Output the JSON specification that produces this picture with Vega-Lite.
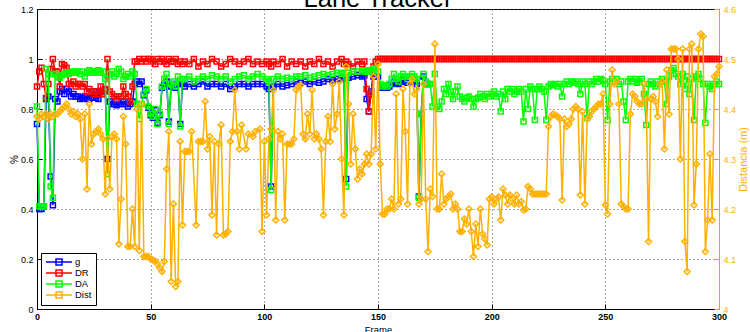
{
"$schema": "https://vega.github.io/schema/vega-lite/v6.json",
"width": 682, "height": 300,
"autosize": {"type": "none"},
"padding": {"left": 37, "top": 9, "right": 31, "bottom": 23},
"background": "white",
"title": {"text": "Lane Tracker", "fontSize": 25.5, "fontWeight": "normal", "font": "Liberation Sans", "anchor": "middle", "frame": "group", "baseline": "alphabetic", "offset": -27.5, "color": "black"},
"config": {
  "view": {"stroke": "black", "strokeWidth": 1},
  "axis": {"labelFont": "Liberation Sans", "titleFont": "Liberation Sans", "labelFontSize": 9, "titleFontSize": 10, "titleFontWeight": "normal", "labelColor": "black", "titleColor": "black", "tickSize": -5, "domainColor": "black", "tickColor": "black", "gridDash": [1, 3], "gridColor": "#444", "gridOpacity": 0.9, "labelPadding": 9}
},
"datasets": {
"pct": [
{"f":0,"g":0.74,"DR":0.89,"DA":0.81},{"f":1,"g":0.40,"DR":0.95,"DA":0.41},{"f":2,"g":0.40,"DR":0.965,"DA":0.41},{"f":3,"g":0.41,"DR":0.9,"DA":0.41},{"f":4,"g":0.84,"DR":0.844,"DA":0.96},{"f":5,"g":0.85,"DR":0.9,"DA":0.94},{"f":6,"g":0.53,"DR":0.96,"DA":0.49},{"f":7,"g":0.415,"DR":1.0,"DA":0.445},{"f":8,"g":0.84,"DR":0.95,"DA":0.94},
{"f":9,"g":0.83,"DR":0.95,"DA":0.93},{"f":10,"g":0.87,"DR":0.89,"DA":0.925},{"f":11,"g":0.88,"DR":0.98,"DA":0.935},{"f":12,"g":0.86,"DR":0.975,"DA":0.94},{"f":13,"g":0.88,"DR":0.965,"DA":0.945},{"f":14,"g":0.87,"DR":0.9,"DA":0.94},{"f":15,"g":0.85,"DR":0.9,"DA":0.945},{"f":16,"g":0.86,"DR":0.91,"DA":0.95},{"f":17,"g":0.85,"DR":0.89,"DA":0.945},{"f":18,"g":0.85,"DR":0.9,"DA":0.95},{"f":19,"g":0.84,"DR":0.9,"DA":0.94},{"f":20,"g":0.845,"DR":0.89,"DA":0.95},
{"f":21,"g":0.85,"DR":0.9,"DA":0.93},{"f":22,"g":0.84,"DR":0.87,"DA":0.945},{"f":23,"g":0.84,"DR":0.88,"DA":0.955},{"f":24,"g":0.845,"DR":0.87,"DA":0.95},{"f":25,"g":0.87,"DR":0.86,"DA":0.945},{"f":26,"g":0.845,"DR":0.87,"DA":0.95},{"f":27,"g":0.84,"DR":0.86,"DA":0.955},{"f":28,"g":0.87,"DR":0.89,"DA":0.945},{"f":29,"g":0.86,"DR":0.86,"DA":0.95},{"f":30,"g":0.875,"DR":0.88,"DA":0.92},
{"f":31,"g":0.6,"DR":1.0,"DA":0.54},{"f":32,"g":0.83,"DR":0.87,"DA":0.94},{"f":33,"g":0.82,"DR":0.86,"DA":0.95},{"f":34,"g":0.82,"DR":0.85,"DA":0.93},{"f":35,"g":0.815,"DR":0.84,"DA":0.94},{"f":36,"g":0.82,"DR":0.85,"DA":0.96},{"f":37,"g":0.82,"DR":0.85,"DA":0.95},{"f":38,"g":0.83,"DR":0.89,"DA":0.92},{"f":39,"g":0.82,"DR":0.86,"DA":0.93},{"f":40,"g":0.81,"DR":0.85,"DA":0.94},
{"f":41,"g":0.82,"DR":0.83,"DA":0.93},{"f":42,"g":0.83,"DR":0.89,"DA":0.95},{"f":43,"g":0.9,"DR":0.99,"DA":0.94},{"f":44,"g":0.91,"DR":0.99,"DA":0.82},{"f":45,"g":0.9,"DR":1.0,"DA":0.76},{"f":46,"g":0.91,"DR":0.99,"DA":0.82},{"f":47,"g":0.855,"DR":1.0,"DA":0.86},{"f":48,"g":0.875,"DR":0.99,"DA":0.88},{"f":49,"g":0.805,"DR":1.0,"DA":0.81},{"f":50,"g":0.775,"DR":1.0,"DA":0.78},
{"f":51,"g":0.765,"DR":0.99,"DA":0.77},{"f":52,"g":0.795,"DR":0.98,"DA":0.80},{"f":53,"g":0.745,"DR":1.0,"DA":0.74},{"f":54,"g":0.775,"DR":0.99,"DA":0.78},{"f":55,"g":0.885,"DR":1.0,"DA":0.89},{"f":56,"g":0.9,"DR":0.99,"DA":0.92},{"f":57,"g":0.91,"DR":0.98,"DA":0.94},{"f":58,"g":0.75,"DR":1.0,"DA":0.74},{"f":59,"g":0.89,"DR":0.99,"DA":0.9},{"f":60,"g":0.9,"DR":0.99,"DA":0.91},
{"f":61,"g":0.885,"DR":1.0,"DA":0.89},{"f":62,"g":0.9,"DR":0.98,"DA":0.93},{"f":63,"g":0.74,"DR":0.99,"DA":0.73},{"f":64,"g":0.9,"DR":0.98,"DA":0.92},
{"f":65,"g":0.89,"DR":0.99,"DA":0.92},{"f":67,"g":0.9,"DR":0.98,"DA":0.93},{"f":69,"g":0.89,"DR":1.0,"DA":0.91},{"f":71,"g":0.9,"DR":0.97,"DA":0.92},{"f":73,"g":0.91,"DR":0.99,"DA":0.93},{"f":75,"g":0.89,"DR":0.98,"DA":0.92},{"f":77,"g":0.9,"DR":1.0,"DA":0.935},{"f":79,"g":0.9,"DR":0.99,"DA":0.93},{"f":81,"g":0.89,"DR":0.97,"DA":0.92},{"f":83,"g":0.9,"DR":0.98,"DA":0.93},
{"f":85,"g":0.88,"DR":1.0,"DA":0.91},{"f":87,"g":0.89,"DR":0.99,"DA":0.92},{"f":89,"g":0.9,"DR":0.98,"DA":0.93},{"f":91,"g":0.9,"DR":0.99,"DA":0.935},{"f":93,"g":0.89,"DR":1.0,"DA":0.92},{"f":95,"g":0.9,"DR":0.98,"DA":0.93},{"f":97,"g":0.9,"DR":0.99,"DA":0.94},{"f":99,"g":0.9,"DR":0.98,"DA":0.93},
{"f":101,"g":0.89,"DR":0.99,"DA":0.92},{"f":102,"g":0.88,"DR":0.98,"DA":0.91},{"f":103,"g":0.49,"DR":0.97,"DA":0.476},{"f":104,"g":0.89,"DR":0.99,"DA":0.92},{"f":106,"g":0.9,"DR":0.98,"DA":0.93},{"f":108,"g":0.89,"DR":1.0,"DA":0.92},{"f":110,"g":0.895,"DR":0.97,"DA":0.925},{"f":112,"g":0.9,"DR":0.99,"DA":0.92},{"f":114,"g":0.91,"DR":0.98,"DA":0.93},{"f":116,"g":0.905,"DR":0.99,"DA":0.93},
{"f":118,"g":0.91,"DR":0.97,"DA":0.935},{"f":120,"g":0.9,"DR":0.99,"DA":0.925},{"f":122,"g":0.91,"DR":0.98,"DA":0.93},{"f":124,"g":0.905,"DR":1.0,"DA":0.935},{"f":126,"g":0.91,"DR":0.98,"DA":0.94},{"f":128,"g":0.92,"DR":0.99,"DA":0.935},{"f":130,"g":0.915,"DR":0.97,"DA":0.94},{"f":132,"g":0.92,"DR":0.99,"DA":0.945},{"f":134,"g":0.925,"DR":1.0,"DA":0.94},{"f":135,"g":0.92,"DR":0.98,"DA":0.945},
{"f":136,"g":0.52,"DR":0.99,"DA":0.49},{"f":137,"g":0.925,"DR":0.98,"DA":0.945},{"f":139,"g":0.93,"DR":0.97,"DA":0.95},{"f":141,"g":0.935,"DR":0.99,"DA":0.95},{"f":143,"g":0.93,"DR":0.98,"DA":0.955},{"f":144,"g":0.935,"DR":0.99,"DA":0.95},{"f":145,"g":0.84,"DR":0.88,"DA":0.95},{"f":146,"g":0.79,"DR":0.79,"DA":0.955},{"f":147,"g":0.87,"DR":0.86,"DA":0.95},{"f":148,"g":0.93,"DR":0.97,"DA":0.96},{"f":149,"g":0.94,"DR":0.99,"DA":0.96},{"f":150,"g":0.93,"DR":1.0,"DA":0.95},
{"f":151,"g":0.89,"DR":1,"DA":0.9},{"f":152,"g":0.885,"DR":1,"DA":0.89},{"f":153,"g":0.89,"DR":1,"DA":0.895},{"f":154,"g":0.885,"DR":1,"DA":0.89},{"f":155,"g":0.89,"DR":1,"DA":0.9},{"f":156,"g":0.9,"DR":1,"DA":0.92},{"f":157,"g":0.91,"DR":1,"DA":0.94},{"f":158,"g":0.905,"DR":1,"DA":0.92},{"f":159,"g":0.9,"DR":1,"DA":0.91},{"f":160,"g":0.91,"DR":1,"DA":0.93},
{"f":161,"g":0.915,"DR":1,"DA":0.94},{"f":162,"g":0.91,"DR":1,"DA":0.93},{"f":163,"g":0.905,"DR":1,"DA":0.92},{"f":164,"g":0.91,"DR":1,"DA":0.93},{"f":165,"g":0.915,"DR":1,"DA":0.94},{"f":166,"g":0.91,"DR":1,"DA":0.93},{"f":167,"g":0.9,"DR":1,"DA":0.92},{"f":168,"g":0.45,"DR":1,"DA":0.445},{"f":169,"g":0.78,"DR":1,"DA":0.78},{"f":170,"g":0.93,"DR":1,"DA":0.94},
{"f":171,"g":0.9,"DR":1,"DA":0.91},{"f":172,"g":0.9,"DR":1,"DA":0.9},{"f":173,"DR":1,"DA":0.9},{"f":174,"DR":1,"DA":0.81},{"f":175,"DR":1,"DA":0.94},{"f":176,"DR":1,"DA":0.81},{"f":177,"DR":1,"DA":0.8},{"f":178,"DR":1,"DA":0.83},{"f":179,"DR":1,"DA":0.88},{"f":180,"DR":1,"DA":0.86},
{"f":181,"DR":1,"DA":0.9},{"f":182,"DR":1,"DA":0.87},{"f":183,"DR":1,"DA":0.84},{"f":184,"DR":1,"DA":0.87},{"f":185,"DR":1,"DA":0.89},{"f":186,"DR":1,"DA":0.85},{"f":187,"DR":1,"DA":0.84},{"f":188,"DR":1,"DA":0.83},{"f":189,"DR":1,"DA":0.845},{"f":190,"DR":1,"DA":0.85},
{"f":191,"DR":1,"DA":0.84},{"f":192,"DR":1,"DA":0.81},{"f":193,"DR":1,"DA":0.84},{"f":194,"DR":1,"DA":0.845},{"f":195,"DR":1,"DA":0.86},{"f":196,"DR":1,"DA":0.85},{"f":197,"DR":1,"DA":0.84},{"f":198,"DR":1,"DA":0.86},{"f":199,"DR":1,"DA":0.85},{"f":200,"DR":1,"DA":0.86},
{"f":201,"DR":1,"DA":0.87},{"f":202,"DR":1,"DA":0.85},{"f":203,"DR":1,"DA":0.86},{"f":204,"DR":1,"DA":0.79},{"f":205,"DR":1,"DA":0.87},{"f":206,"DR":1,"DA":0.84},{"f":207,"DR":1,"DA":0.88},{"f":208,"DR":1,"DA":0.87},{"f":209,"DR":1,"DA":0.88},{"f":210,"DR":1,"DA":0.86},
{"f":211,"DR":1,"DA":0.87},{"f":212,"DR":1,"DA":0.88},{"f":213,"DR":1,"DA":0.87},{"f":214,"DR":1,"DA":0.75},{"f":215,"DR":1,"DA":0.88},{"f":216,"DR":1,"DA":0.8},{"f":217,"DR":1,"DA":0.89},{"f":218,"DR":1,"DA":0.88},{"f":219,"DR":1,"DA":0.756},{"f":220,"DR":1,"DA":0.88},
{"f":221,"DR":1,"DA":0.89},{"f":222,"DR":1,"DA":0.88},{"f":223,"DR":1,"DA":0.87},{"f":224,"DR":1,"DA":0.756},{"f":225,"DR":1,"DA":0.89},{"f":226,"DR":1,"DA":0.9},{"f":227,"DR":1,"DA":0.895},{"f":228,"DR":1,"DA":0.9},{"f":229,"DR":1,"DA":0.89},{"f":230,"DR":1,"DA":0.9},
{"f":231,"DR":1,"DA":0.85},{"f":232,"DR":1,"DA":0.9},{"f":233,"DR":1,"DA":0.91},{"f":234,"DR":1,"DA":0.9},{"f":235,"DR":1,"DA":0.91},{"f":236,"DR":1,"DA":0.905},{"f":237,"DR":1,"DA":0.91},{"f":238,"DR":1,"DA":0.9},{"f":239,"DR":1,"DA":0.86},{"f":240,"DR":1,"DA":0.91},
{"f":241,"DR":1,"DA":0.9},{"f":242,"DR":1,"DA":0.764},{"f":243,"DR":1,"DA":0.91},{"f":244,"DR":1,"DA":0.9},{"f":245,"DR":1,"DA":0.91},{"f":246,"DR":1,"DA":0.92},{"f":247,"DR":1,"DA":0.91},{"f":248,"DR":1,"DA":0.92},{"f":249,"DR":1,"DA":0.915},{"f":250,"DR":1,"DA":0.9},
{"f":251,"DR":1,"DA":0.756},{"f":252,"DR":1,"DA":0.91},{"f":253,"DR":1,"DA":0.92},{"f":254,"DR":1,"DA":0.91},{"f":255,"DR":1,"DA":0.92},{"f":256,"DR":1,"DA":0.9},{"f":257,"DR":1,"DA":0.91},{"f":258,"DR":1,"DA":0.83},{"f":259,"DR":1,"DA":0.756},{"f":260,"DR":1,"DA":0.91},
{"f":261,"DR":1,"DA":0.92},{"f":262,"DR":1,"DA":0.91},{"f":263,"DR":1,"DA":0.92},{"f":264,"DR":1,"DA":0.905},{"f":265,"DR":1,"DA":0.91},{"f":266,"DR":1,"DA":0.92},{"f":267,"DR":1,"DA":0.86},{"f":268,"DR":1,"DA":0.736},{"f":269,"DR":1,"DA":0.9},{"f":270,"DR":1,"DA":0.91},
{"f":271,"DR":1,"DA":0.9},{"f":272,"DR":1,"DA":0.89},{"f":273,"DR":1,"DA":0.91},{"f":274,"DR":1,"DA":0.9},{"f":275,"DR":1,"DA":0.92},{"f":276,"DR":1,"DA":0.91},{"f":277,"DR":1,"DA":0.82},{"f":278,"DR":1,"DA":0.93},{"f":279,"DR":1,"DA":0.956},{"f":280,"DR":1,"DA":0.964},
{"f":281,"DR":1,"DA":0.94},{"f":282,"DR":1,"DA":0.93},{"f":283,"DR":1,"DA":0.9},{"f":284,"DR":1,"DA":0.94},{"f":285,"DR":1,"DA":0.88},{"f":286,"DR":1,"DA":0.93},{"f":287,"DR":1,"DA":0.86},{"f":288,"DR":1,"DA":0.92},{"f":289,"DR":1,"DA":0.756},{"f":290,"DR":1,"DA":0.93},
{"f":291,"DR":1,"DA":0.94},{"f":292,"DR":1,"DA":0.92},{"f":293,"DR":1,"DA":0.9},{"f":294,"DR":1,"DA":0.744},{"f":295,"DR":1,"DA":0.9},{"f":296,"DR":1,"DA":0.89},{"f":297,"DR":1,"DA":0.88},{"f":298,"DR":1,"DA":0.9},{"f":299,"DR":1,"DA":0.91},{"f":300,"DR":1,"DA":0.9}
],
"dist": [
{"f":0,"d":4.385},{"f":1,"d":4.38},{"f":2,"d":4.39},{"f":3,"d":4.385},{"f":4,"d":4.39},{"f":5,"d":4.38},{"f":6,"d":4.39},{"f":7,"d":4.385},{"f":8,"d":4.39},{"f":9,"d":4.39},
{"f":10,"d":4.395},{"f":11,"d":4.4},{"f":12,"d":4.405},{"f":13,"d":4.41},{"f":14,"d":4.4},{"f":15,"d":4.39},{"f":16,"d":4.395},{"f":17,"d":4.385},{"f":18,"d":4.39},{"f":19,"d":4.38},
{"f":20,"d":4.30},{"f":21,"d":4.39},{"f":22,"d":4.24},{"f":23,"d":4.41},{"f":24,"d":4.33},{"f":25,"d":4.35},{"f":26,"d":4.355},{"f":27,"d":4.36},{"f":28,"d":4.35},{"f":29,"d":4.34},
{"f":30,"d":4.23},{"f":31,"d":4.34},{"f":32,"d":4.24},{"f":33,"d":4.345},{"f":34,"d":4.35},{"f":35,"d":4.34},{"f":36,"d":4.13},{"f":37,"d":4.22},{"f":38,"d":4.385},{"f":39,"d":4.33},
{"f":40,"d":4.125},{"f":41,"d":4.125},{"f":42,"d":4.20},{"f":43,"d":4.125},{"f":44,"d":4.40},{"f":45,"d":4.117},{"f":46,"d":4.41},{"f":47,"d":4.105},{"f":48,"d":4.105},{"f":49,"d":4.105},
{"f":50,"d":4.1},{"f":51,"d":4.098},{"f":52,"d":4.096},{"f":53,"d":4.09},{"f":54,"d":4.082},{"f":55,"d":4.075},{"f":56,"d":4.095},{"f":57,"d":4.28},{"f":58,"d":4.355},{"f":59,"d":4.055},
{"f":60,"d":4.21},{"f":61,"d":4.045},{"f":62,"d":4.055},{"f":63,"d":4.335},{"f":64,"d":4.168},{"f":65,"d":4.315},{"f":66,"d":4.315},{"f":67,"d":4.315},{"f":68,"d":4.355},{"f":70,"d":4.168},
{"f":71,"d":4.335},{"f":72,"d":4.335},{"f":73,"d":4.335},{"f":74,"d":4.415},{"f":75,"d":4.32},{"f":76,"d":4.345},{"f":77,"d":4.188},{"f":78,"d":4.335},{"f":79,"d":4.148},{"f":80,"d":4.33},
{"f":81,"d":4.368},{"f":82,"d":4.148},{"f":83,"d":4.15},{"f":84,"d":4.155},{"f":85,"d":4.335},{"f":86,"d":4.355},{"f":87,"d":4.438},{"f":88,"d":4.355},{"f":89,"d":4.32},{"f":90,"d":4.368},
{"f":92,"d":4.32},{"f":93,"d":4.35},{"f":95,"d":4.345},{"f":96,"d":4.355},{"f":98,"d":4.36},{"f":99,"d":4.155},{"f":100,"d":4.335},{"f":101,"d":4.188},{"f":102,"d":4.34},{"f":103,"d":4.36},
{"f":104,"d":4.438},{"f":105,"d":4.178},{"f":106,"d":4.355},{"f":107,"d":4.34},{"f":108,"d":4.35},{"f":109,"d":4.178},{"f":110,"d":4.33},{"f":111,"d":4.33},{"f":112,"d":4.33},{"f":113,"d":4.34},
{"f":114,"d":4.438},{"f":115,"d":4.445},{"f":116,"d":4.448},{"f":117,"d":4.35},{"f":118,"d":4.34},{"f":119,"d":4.39},{"f":120,"d":4.35},{"f":121,"d":4.438},{"f":122,"d":4.34},{"f":123,"d":4.35},
{"f":124,"d":4.34},{"f":125,"d":4.32},{"f":126,"d":4.188},{"f":127,"d":4.335},{"f":128,"d":4.385},{"f":129,"d":4.335},{"f":130,"d":4.45},{"f":131,"d":4.36},{"f":132,"d":4.39},{"f":133,"d":4.455},
{"f":134,"d":4.3},{"f":135,"d":4.188},{"f":136,"d":4.485},{"f":137,"d":4.41},{"f":138,"d":4.29},{"f":139,"d":4.39},{"f":140,"d":4.32},{"f":141,"d":4.26},{"f":142,"d":4.28},{"f":143,"d":4.27},
{"f":144,"d":4.29},{"f":145,"d":4.31},{"f":146,"d":4.29},{"f":147,"d":4.31},{"f":148,"d":4.465},{"f":149,"d":4.32},{"f":150,"d":4.49},{"f":151,"d":4.29},{"f":152,"d":4.19},{"f":153,"d":4.19},
{"f":154,"d":4.2},{"f":155,"d":4.2},{"f":156,"d":4.22},{"f":157,"d":4.2},{"f":158,"d":4.43},{"f":159,"d":4.21},{"f":160,"d":4.22},{"f":161,"d":4.44},{"f":162,"d":4.355},{"f":163,"d":4.21},
{"f":164,"d":4.45},{"f":165,"d":4.46},{"f":166,"d":4.43},{"f":167,"d":4.44},{"f":168,"d":4.21},{"f":169,"d":4.22},{"f":170,"d":4.45},{"f":171,"d":4.22},{"f":172,"d":4.115},{"f":173,"d":4.24},
{"f":174,"d":4.225},{"f":175,"d":4.53},{"f":176,"d":4.2},{"f":177,"d":4.2},{"f":178,"d":4.27},{"f":179,"d":4.21},{"f":180,"d":4.22},{"f":181,"d":4.225},{"f":182,"d":4.23},{"f":183,"d":4.2},
{"f":184,"d":4.21},{"f":185,"d":4.2},{"f":186,"d":4.155},{"f":187,"d":4.155},{"f":188,"d":4.18},{"f":189,"d":4.17},{"f":190,"d":4.2},{"f":191,"d":4.155},{"f":192,"d":4.105},{"f":193,"d":4.17},
{"f":194,"d":4.125},{"f":195,"d":4.2},{"f":196,"d":4.15},{"f":197,"d":4.14},{"f":198,"d":4.128},{"f":199,"d":4.22},{"f":200,"d":4.224},{"f":201,"d":4.21},{"f":202,"d":4.22},{"f":203,"d":4.224},
{"f":204,"d":4.178},{"f":205,"d":4.24},{"f":206,"d":4.228},{"f":207,"d":4.21},{"f":208,"d":4.228},{"f":209,"d":4.22},{"f":210,"d":4.21},{"f":211,"d":4.228},{"f":212,"d":4.21},{"f":213,"d":4.215},
{"f":214,"d":4.198},{"f":215,"d":4.2},{"f":216,"d":4.245},{"f":217,"d":4.24},{"f":218,"d":4.23},{"f":219,"d":4.23},{"f":220,"d":4.23},{"f":221,"d":4.23},{"f":222,"d":4.23},{"f":223,"d":4.23},
{"f":224,"d":4.23},{"f":225,"d":4.365},{"f":226,"d":4.385},{"f":227,"d":4.39},{"f":228,"d":4.388},{"f":229,"d":4.385},{"f":230,"d":4.38},{"f":231,"d":4.218},{"f":232,"d":4.38},{"f":233,"d":4.365},
{"f":234,"d":4.37},{"f":235,"d":4.38},{"f":236,"d":4.4},{"f":237,"d":4.405},{"f":238,"d":4.4},{"f":239,"d":4.228},{"f":240,"d":4.395},{"f":241,"d":4.21},{"f":242,"d":4.38},{"f":243,"d":4.385},
{"f":244,"d":4.395},{"f":245,"d":4.4},{"f":246,"d":4.405},{"f":247,"d":4.41},{"f":248,"d":4.41},{"f":249,"d":4.43},{"f":250,"d":4.208},{"f":251,"d":4.19},{"f":252,"d":4.41},{"f":253,"d":4.478},
{"f":254,"d":4.45},{"f":255,"d":4.455},{"f":256,"d":4.41},{"f":257,"d":4.21},{"f":258,"d":4.205},{"f":259,"d":4.2},{"f":260,"d":4.2},{"f":261,"d":4.39},{"f":262,"d":4.43},{"f":263,"d":4.425},
{"f":264,"d":4.415},{"f":265,"d":4.41},{"f":266,"d":4.41},{"f":267,"d":4.45},{"f":268,"d":4.42},{"f":269,"d":4.135},{"f":270,"d":4.42},{"f":271,"d":4.425},{"f":272,"d":4.415},{"f":273,"d":4.385},
{"f":274,"d":4.45},{"f":275,"d":4.455},{"f":276,"d":4.32},{"f":277,"d":4.478},{"f":278,"d":4.39},{"f":279,"d":4.52},{"f":280,"d":4.52},{"f":281,"d":4.52},{"f":282,"d":4.5},{"f":283,"d":4.3},
{"f":284,"d":4.52},{"f":285,"d":4.135},{"f":286,"d":4.075},{"f":287,"d":4.52},{"f":288,"d":4.53},{"f":289,"d":4.208},{"f":290,"d":4.29},{"f":291,"d":4.52},{"f":292,"d":4.55},{"f":293,"d":4.545},
{"f":294,"d":4.115},{"f":295,"d":4.178},{"f":296,"d":4.31},{"f":297,"d":4.178},{"f":298,"d":4.465},{"f":299,"d":4.47},{"f":300,"d":4.485}
]
},
"encoding": {
  "x": {"field": "f", "type": "quantitative", "scale": {"domain": [0, 300], "nice": false},
        "axis": {"title": "Frame", "titleFontSize": 9.5, "labelFontWeight": "bold", "values": [0, 50, 100, 150, 200, 250, 300], "grid": true, "labelPadding": 8.5, "titlePadding": 2.5, "labelFlush": false}}
},
"layer": [
  {"layer": [
    {"data": {"name": "pct"},
     "mark": {"type": "line", "strokeWidth": 1.5, "point": {"shape": "square", "filled": false, "size": 25, "strokeWidth": 1.5}},
     "encoding": {
       "y": {"field": "g", "type": "quantitative", "scale": {"domain": [0, 1.2], "nice": false},
             "axis": {"title": "%", "values": [0, 0.2, 0.4, 0.6, 0.8, 1, 1.2], "format": "~g", "grid": true, "titlePadding": 1}},
       "color": {"datum": "g",
         "scale": {"domain": ["g", "DR", "DA", "Dist"], "range": ["#0000FF", "#FF0000", "#00FF00", "#FFB000"]},
         "legend": {"title": null, "orient": "bottom-left", "offset": 4, "strokeColor": "black", "fillColor": "white", "padding": 4, "cornerRadius": 0,
           "labelFont": "Liberation Sans", "labelFontSize": 9.5, "labelColor": "black", "symbolSize": 64, "symbolStrokeWidth": 1.5, "symbolOffset": 9, "labelOffset": 11, "rowPadding": -1.5,
           "symbolType": "M-3.25,0H3.25M-0.75,-0.75H0.75V0.75H-0.75Z"}}
     }},
    {"data": {"name": "pct"},
     "mark": {"type": "line", "strokeWidth": 1.5, "point": {"shape": "square", "filled": false, "size": 25, "strokeWidth": 1.5}},
     "encoding": {
       "y": {"field": "DR", "type": "quantitative", "scale": {"domain": [0, 1.2], "nice": false},
             "axis": {"title": "%", "values": [0, 0.2, 0.4, 0.6, 0.8, 1, 1.2], "format": "~g", "grid": true, "titlePadding": 1}},
       "color": {"datum": "DR"}
     }},
    {"data": {"name": "pct"},
     "mark": {"type": "line", "strokeWidth": 1.5, "point": {"shape": "square", "filled": false, "size": 25, "strokeWidth": 1.5}},
     "encoding": {
       "y": {"field": "DA", "type": "quantitative", "scale": {"domain": [0, 1.2], "nice": false},
             "axis": {"title": "%", "values": [0, 0.2, 0.4, 0.6, 0.8, 1, 1.2], "format": "~g", "grid": true, "titlePadding": 1}},
       "color": {"datum": "DA"}
     }}
  ]},
  {"data": {"name": "dist"},
   "mark": {"type": "line", "strokeWidth": 1.5, "point": {"shape": "diamond", "filled": false, "size": 36, "strokeWidth": 1.5}},
   "encoding": {
     "y": {"field": "d", "type": "quantitative", "scale": {"domain": [4, 4.6], "nice": false, "zero": false},
           "axis": {"orient": "right", "title": "Distancia (m)", "values": [4, 4.1, 4.2, 4.3, 4.4, 4.5, 4.6], "format": "~g", "grid": false,
                    "labelColor": "#FFB000", "titleColor": "#FFB000", "tickColor": "#E8A500", "domainColor": "#E8A500",
                    "titleAngle": 270, "titleBaseline": "top", "titlePadding": 2, "titleFontSize": 11}},
     "color": {"datum": "Dist"}
   }}
],
"resolve": {"scale": {"y": "independent"}}
}
